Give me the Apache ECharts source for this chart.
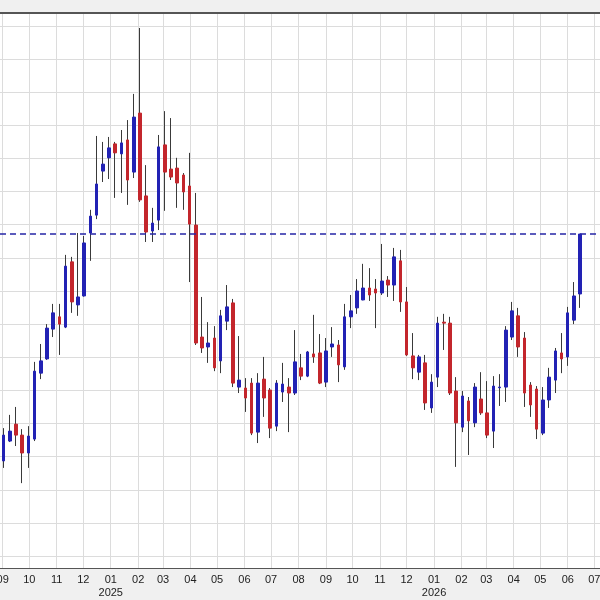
<!DOCTYPE html>
<html><head><meta charset="utf-8">
<script src="https://cdn.jsdelivr.net/npm/echarts@6/dist/echarts.min.js"></script>
<style>html,body{margin:0;padding:0;background:#f0f0f0}#c{width:600px;height:600px}</style>
</head><body><div id="c"></div>
<script>
const dates = [
'2024-09-02','2024-09-09','2024-09-16','2024-09-23','2024-09-30','2024-10-07','2024-10-14','2024-10-21','2024-10-28','2024-11-04',
'2024-11-11','2024-11-18','2024-11-25','2024-12-02','2024-12-09','2024-12-16','2024-12-23','2024-12-30','2025-01-06','2025-01-13',
'2025-01-20','2025-01-27','2025-02-03','2025-02-10','2025-02-17','2025-02-24','2025-03-03','2025-03-10','2025-03-17','2025-03-24',
'2025-03-31','2025-04-07','2025-04-14','2025-04-21','2025-04-28','2025-05-05','2025-05-12','2025-05-19','2025-05-26','2025-06-02',
'2025-06-09','2025-06-16','2025-06-23','2025-06-30','2025-07-07','2025-07-14','2025-07-21','2025-07-28','2025-08-04','2025-08-11',
'2025-08-18','2025-08-25','2025-09-01','2025-09-08','2025-09-15','2025-09-22','2025-09-29','2025-10-06','2025-10-13','2025-10-20',
'2025-10-27','2025-11-03','2025-11-10','2025-11-17','2025-11-24','2025-12-01','2025-12-08','2025-12-15','2025-12-22','2025-12-29',
'2026-01-05','2026-01-12','2026-01-19','2026-01-26','2026-02-02','2026-02-09','2026-02-16','2026-02-23','2026-03-02','2026-03-09',
'2026-03-16','2026-03-23','2026-03-30','2026-04-06','2026-04-13','2026-04-20','2026-04-27','2026-05-04','2026-05-11','2026-05-18',
'2026-05-25','2026-06-01','2026-06-08','2026-06-15'
];
const opens = [
143.87,144.47,144.98,144.65,144.11,144.53,146.52,146.95,147.85,148.22,
147.91,149.88,148.58,148.85,150.75,151.29,152.62,153.02,153.44,153.14,
153.56,152.59,154.37,151.87,150.81,151.14,153.41,152.68,152.71,152.50,
152.17,150.99,147.61,147.31,147.58,146.89,148.09,148.64,146.10,146.07,
146.22,144.74,146.34,146.01,144.92,145.95,146.10,145.92,146.68,146.43,
147.10,147.13,146.25,147.31,147.37,146.71,148.22,148.49,148.73,149.09,
149.06,148.94,149.33,149.18,149.91,148.67,147.04,146.55,146.83,145.47,
146.40,148.06,148.03,145.98,144.89,145.68,145.02,145.74,145.32,144.77,
146.08,146.10,147.61,148.25,147.58,146.16,146.04,144.71,145.71,146.31,
147.13,147.01,148.12,148.91
];
const closes = [
144.65,144.77,144.65,144.11,144.62,146.58,146.89,147.88,148.34,148.00,
149.75,148.67,148.82,150.45,151.26,152.23,152.83,153.32,153.17,153.47,
152.35,154.25,151.75,150.78,151.05,153.35,152.59,152.44,152.26,151.99,
151.02,147.43,147.28,147.43,146.68,148.25,148.52,146.22,146.31,145.77,
144.71,146.22,145.77,144.86,146.22,146.19,145.92,146.86,146.43,147.16,
147.01,146.22,147.19,147.40,146.77,148.22,148.40,149.00,149.09,148.88,
148.94,149.30,149.18,150.03,148.67,147.07,146.68,147.01,145.62,146.25,
148.03,148.03,145.92,145.02,145.83,145.08,146.10,145.32,144.65,146.13,
146.10,147.82,148.40,147.31,145.92,145.56,144.83,145.71,146.40,147.19,
146.95,148.34,148.85,150.72
];
const lows = [
143.66,144.44,144.32,143.20,143.66,144.47,146.34,146.92,147.61,147.07,
147.88,148.34,148.25,148.83,149.91,151.17,152.29,152.38,151.81,151.96,
151.60,152.41,151.69,150.48,150.48,150.84,151.42,152.35,151.51,151.45,
149.27,147.37,147.13,146.83,146.58,146.52,147.82,146.10,145.92,145.35,
144.65,144.41,145.20,144.56,144.77,145.65,144.74,145.86,146.31,146.40,
146.83,146.19,146.10,147.01,146.25,146.62,147.88,148.31,148.72,148.70,
147.88,148.88,148.82,148.70,148.37,147.04,146.34,146.31,145.41,145.32,
146.10,147.22,145.86,143.69,144.74,144.05,144.89,145.26,144.56,144.26,
145.53,145.65,147.52,147.01,145.50,145.20,144.53,144.65,145.47,145.92,
146.52,146.74,148.00,148.49
];
const highs = [
144.86,145.26,145.50,144.83,144.92,146.86,147.40,148.00,148.61,148.61,
150.09,150.03,150.75,150.66,151.45,153.68,153.50,153.65,153.50,153.86,
154.16,154.95,156.94,152.80,151.51,153.71,154.43,154.22,153.02,152.56,
153.17,151.96,148.82,148.06,147.94,148.43,149.18,148.76,147.64,146.37,
146.37,146.52,147.01,146.07,146.31,146.83,146.37,147.82,147.10,147.19,
148.28,147.70,147.58,147.91,147.52,148.61,148.88,149.36,149.82,149.69,
149.36,150.42,149.45,150.30,150.24,149.12,147.73,147.07,147.07,146.49,
148.22,148.31,148.22,146.40,145.98,145.80,146.22,146.55,146.28,146.43,
146.49,147.94,148.67,148.49,147.76,146.25,146.13,146.10,146.68,147.28,
147.73,148.52,149.27,150.72
];
const yMin = 140.638, yMax = 157.392;
const xMin = '2024-08-28T23:00:00', xMax = '2026-07-07T10:00:00';

const UP = '#2222b4', DOWN = '#c3262c', WICK = '#3a3a3a';

const wickData = dates.map((d, i) => [d, opens[i], closes[i], lows[i], highs[i]]);
const bodyData = dates.map((d, i) => [d, opens[i], closes[i], Math.min(opens[i], closes[i]), Math.max(opens[i], closes[i])]);
const lastClose = closes[closes.length - 1];

const chart = echarts.init(document.getElementById('c'), null, {renderer: 'canvas'});
chart.setOption({
  animation: false,
  backgroundColor: '#f0f0f0',
  grid: {left: 0, right: 0, top: 13, bottom: 32, show: true, backgroundColor: '#ffffff', borderWidth: 0,
         containLabel: false, outerBoundsMode: 'none'},
  xAxis: [{
    type: 'time', min: xMin, max: xMax, splitNumber: 22,
    axisLine: {show: true, onZero: false, lineStyle: {color: '#555555', width: 1}},
    axisTick: {show: false},
    splitLine: {show: true, showMinLine: false, showMaxLine: false, lineStyle: {color: '#dcdcdc', width: 1}},
    axisLabel: {
      show: true, margin: 5, color: '#222222', fontFamily: 'Liberation Sans, Arial, sans-serif', fontSize: 11, lineHeight: 13,
      showMinLabel: false, showMaxLabel: false, hideOverlap: false,
      formatter: function (v) {
        const d = new Date(v);
        if (d.getDate() !== 1 || d.getHours() !== 0) return '';
        const m = d.getMonth() + 1;
        const s = (m < 10 ? '0' : '') + m;
        return m === 1 ? s + '\n' + d.getFullYear() : s;
      }
    }
  }, {
    type: 'time', min: xMin, max: xMax, position: 'top',
    axisLine: {show: true, onZero: false, lineStyle: {color: '#555555', width: 2}},
    axisTick: {show: false}, axisLabel: {show: false}, splitLine: {show: false}
  }],
  yAxis: {
    type: 'value', min: yMin, max: yMax, splitNumber: 17, scale: true,
    axisLine: {show: false}, axisTick: {show: false}, axisLabel: {show: false},
    splitLine: {show: true, lineStyle: {color: '#dcdcdc', width: 1}}
  },
  series: [{
    name: 'wick', type: 'candlestick', data: wickData, barWidth: 1,
    itemStyle: {color: WICK, color0: WICK, borderColor: WICK, borderColor0: WICK, borderColorDoji: WICK, borderWidth: 1},
    emphasis: {disabled: true}, z: 2
  }, {
    name: 'body', type: 'candlestick', data: bodyData, barWidth: 3,
    itemStyle: {color: UP, color0: DOWN, borderColor: UP, borderColor0: DOWN, borderColorDoji: WICK, borderWidth: 1},
    emphasis: {disabled: true}, z: 3,
    markLine: {
      silent: true, symbol: ['none', 'none'], label: {show: false},
      lineStyle: {type: [6, 4], color: '#2626a6', width: 1.5},
      data: [{yAxis: lastClose}]
    }
  }]
});
</script>
</body></html>
